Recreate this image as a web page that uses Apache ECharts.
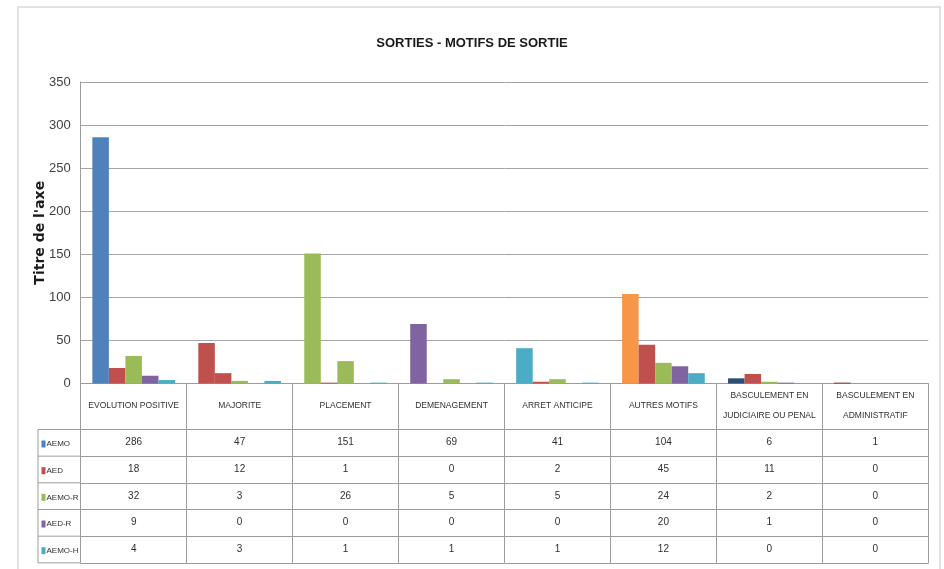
<!DOCTYPE html>
<html>
<head>
<meta charset="utf-8">
<script src="https://cdn.jsdelivr.net/npm/echarts@6/dist/echarts.min.js"></script>
<style>html,body{margin:0;padding:0;background:#fff;}#c{width:944px;height:569px;}</style>
</head>
<body>
<div id="c"></div>
<script>
var categories = ['EVOLUTION POSITIVE','MAJORITE','PLACEMENT','DEMENAGEMENT','ARRET ANTICIPE','AUTRES MOTIFS','BASCULEMENT EN\nJUDICIAIRE OU PENAL','BASCULEMENT EN\nADMINISTRATIF'];
var seriesNames = ['AEMO','AED','AEMO-R','AED-R','AEMO-H'];
var AEMO   = [286, 47, 151, 69, 41, 104, 6, 1];
var AED    = [18, 12, 1, 0, 2, 45, 11, 0];
var AEMO_R = [32, 3, 26, 5, 5, 24, 2, 0];
var AED_R  = [9, 0, 0, 0, 0, 20, 1, 0];
var AEMO_H = [4, 3, 1, 1, 1, 12, 0, 0];
var yTicks = [0, 50, 100, 150, 200, 250, 300, 350];

var seriesColors = ['#4F81BD','#C0504D','#9BBB59','#8064A2','#4BACC6'];
var pointColors = ['#4F81BD','#C0504D','#9BBB59','#8064A2','#4BACC6','#F79646','#2C4D75','#772C2A'];
var rows = [AEMO, AED, AEMO_R, AED_R, AEMO_H];

var gridLeft = 80.7, gridRight = 15.7, gridTop = 82, gridBottomY = 383.5;
var headerH = 46, rowH = 26.67;
var lineColor = '#9c9c9c';
var font = '"Liberation Sans", Arial, sans-serif';

var xAxes = [{
  type: 'category', data: categories, position: 'bottom', gridIndex: 0,
  axisLine: {show: true, lineStyle: {color: lineColor}},
  axisTick: {show: true, length: headerH, interval: 0, lineStyle: {color: lineColor}},
  axisLabel: {interval: 0, margin: 22, verticalAlign: 'middle', lineHeight: 20,
    fontFamily: font, fontSize: 8.5, color: '#303030'}
}];
rows.forEach(function (row, r) {
  xAxes.push({
    type: 'category', data: categories, position: 'bottom', gridIndex: 0,
    offset: headerH + rowH * r,
    axisLine: {show: true, lineStyle: {color: lineColor}},
    axisTick: {show: true, length: rowH, interval: 0, lineStyle: {color: lineColor}},
    axisLabel: {interval: 0, margin: 13, verticalAlign: 'middle',
      fontFamily: font, fontSize: 10, color: '#303030',
      formatter: function (v, i) { return String(row[i]); }}
  });
});
xAxes.push({
  type: 'category', data: categories, position: 'bottom', gridIndex: 0,
  offset: headerH + rowH * rows.length,
  axisLine: {show: true, lineStyle: {color: lineColor}},
  axisTick: {show: false}, axisLabel: {show: false}
});

var series = rows.map(function (row, r) {
  return {
    name: seriesNames[r], type: 'bar', xAxisIndex: 0,
    barGap: '0%', barCategoryGap: '22%',
    itemStyle: {color: seriesColors[r]},
    data: r === 0 ? row.map(function (v, i) { return {value: v, itemStyle: {color: pointColors[i]}}; }) : row
  };
});

var tableTop = gridBottomY + headerH;
var tableBottom = gridBottomY + headerH + rowH * rows.length;
var graphics = [{
  type: 'rect', shape: {x: 18, y: 7, width: 922, height: 600},
  style: {fill: 'none', stroke: '#d9d9d9', lineWidth: 1.5}, silent: true, z: -10
}, {
  type: 'line', shape: {x1: 38, y1: tableTop, x2: 38, y2: tableBottom},
  style: {stroke: lineColor, lineWidth: 1}, silent: true
}];
for (var k = 0; k <= rows.length; k++) {
  graphics.push({
    type: 'line', shape: {x1: 38, y1: tableTop + rowH * k, x2: gridLeft, y2: tableTop + rowH * k},
    style: {stroke: lineColor, lineWidth: 1}, silent: true
  });
}

var chart = echarts.init(document.getElementById('c'));
chart.setOption({
  animation: false,
  title: {text: 'SORTIES - MOTIFS DE SORTIE', left: 'center', top: 32,
    textStyle: {fontFamily: font, fontSize: 13, fontWeight: 'bold', color: '#1a1a1a'}},
  legend: {orient: 'vertical', left: 36.5, top: tableTop + 2.5, itemWidth: 4, itemHeight: 7,
    itemGap: rowH - 14, icon: 'rect', data: seriesNames,
    textStyle: {fontFamily: font, fontSize: 8, color: '#303030', lineHeight: 14, padding: [0, 0, 0, -4]}},
  grid: {left: gridLeft, right: gridRight, top: gridTop, bottom: 569 - gridBottomY, containLabel: false},
  xAxis: xAxes,
  yAxis: {type: 'value', min: 0, max: 350, interval: 50,
    name: 'Titre de l\'axe', nameLocation: 'middle', nameGap: 33, nameRotate: 90, nameMoveOverlap: false,
    nameTextStyle: {fontFamily: '"DejaVu Sans", sans-serif', fontWeight: 'bold', fontSize: 14, color: '#1a1a1a'},
    axisLine: {show: true, lineStyle: {color: lineColor}},
    axisTick: {show: false},
    splitLine: {lineStyle: {color: '#a6a6a6', width: 1}},
    axisLabel: {margin: 10, fontFamily: font, fontSize: 13, color: '#404040',
      formatter: function (v) { return yTicks.indexOf(v) >= 0 ? String(v) : ''; }}
  },
  series: series,
  graphic: graphics
});
</script>
</body>
</html>
